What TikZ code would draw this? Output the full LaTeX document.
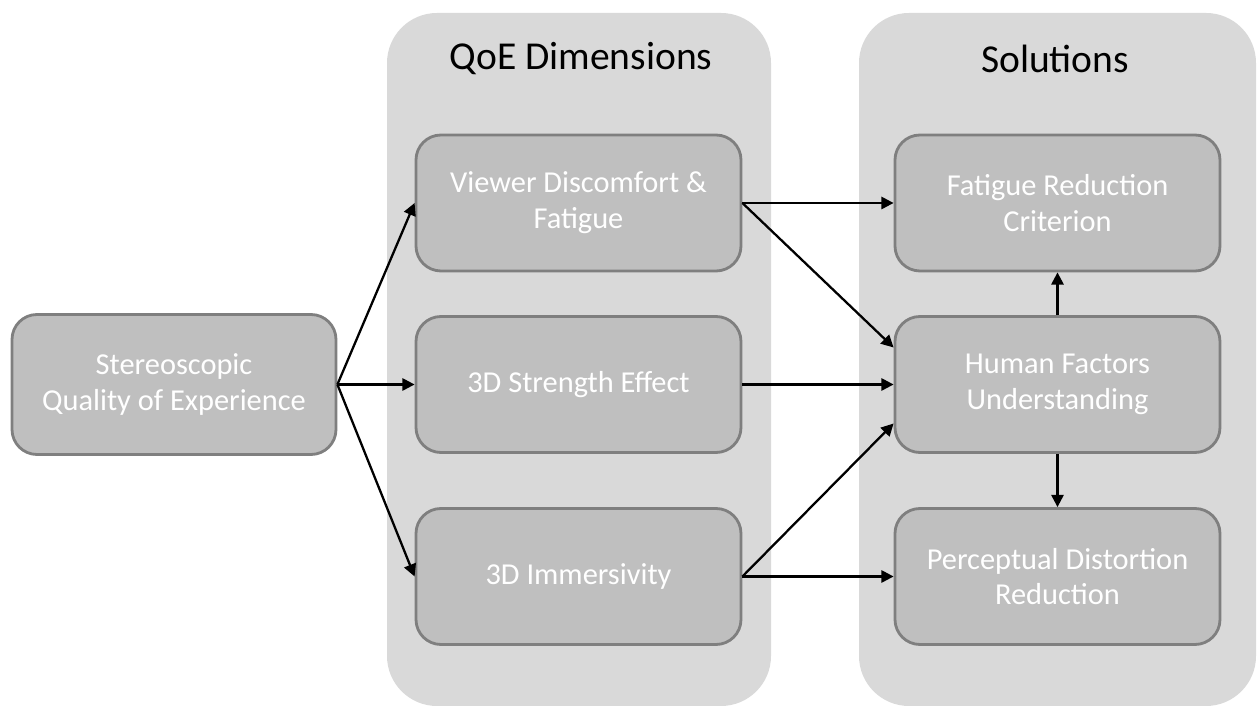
\documentclass[tikz,border=0pt]{standalone}
\usepackage{fontspec}
\setmainfont{Carlito}
\usetikzlibrary{arrows.meta}
\definecolor{panelgray}{HTML}{D9D9D9}
\definecolor{boxgray}{HTML}{BFBFBF}
\definecolor{edgegray}{HTML}{7F7F7F}
\tikzset{
  panel/.style={fill=panelgray, draw=none, rounded corners=1cm},
  stage/.style={draw=edgegray, line width=1.6pt, fill=boxgray, rounded corners=0.5cm,
    minimum width=6.5cm, minimum height=2.72cm, align=center, text=white,
    font=\fontsize{17.3}{20.3}\selectfont},
  heading/.style={font=\fontsize{22.5}{27}\selectfont},
  link/.style={-{Triangle[length=7pt,width=7pt]}, line width=1.3pt}
}
\begin{document}
\begin{tikzpicture}
      \useasboundingbox (0,0) rectangle (25.16,14.12);
      % background panels
      \fill[panel] (7.74,0) rectangle (15.42,13.86);
      \fill[panel] (17.18,0) rectangle (25.12,13.86);
      \node[heading] (qoe) at (11.62,12.94) {QoE Dimensions};
      \node[heading] (sol) at (21.1,12.94) {Solutions};
      % boxes
      \node[stage, minimum width=6.48cm, minimum height=2.8cm] (sqe) at (3.48,6.43) {Stereoscopic\\Quality of Experience};
      \node[stage] (vdf) at (11.57,10.06) {Viewer Discomfort \&\\Fatigue};
      \node[stage] (sse) at (11.57,6.43) {3D Strength Effect};
      \node[stage] (imm) at (11.57,2.59) {3D Immersivity};
      \node[stage] (frc) at (21.15,10.06) {Fatigue Reduction\\Criterion};
      \node[stage] (hfu) at (21.15,6.43) {Human Factors\\Understanding};
      \node[stage] (pdr) at (21.15,2.59) {Perceptual Distortion\\Reduction};
      % connectors
      \begin{scope}[link]
        \draw (sqe.east) to (vdf.west);
        \draw (sqe.east) to (sse.west);
        \draw (sqe.east) to (imm.west);
        \draw (vdf.east) to (frc.west);
        \draw (vdf.east) to ([yshift=0.74cm]hfu.west);
        \draw (sse.east) to (hfu.west);
        \draw (imm.east) to ([yshift=-0.78cm]hfu.west);
        \draw (imm.east) to (pdr.west);
        \draw (hfu.north) to (frc.south);
        \draw (hfu.south) to (pdr.north);
      \end{scope}
    \end{tikzpicture}
\end{document}
